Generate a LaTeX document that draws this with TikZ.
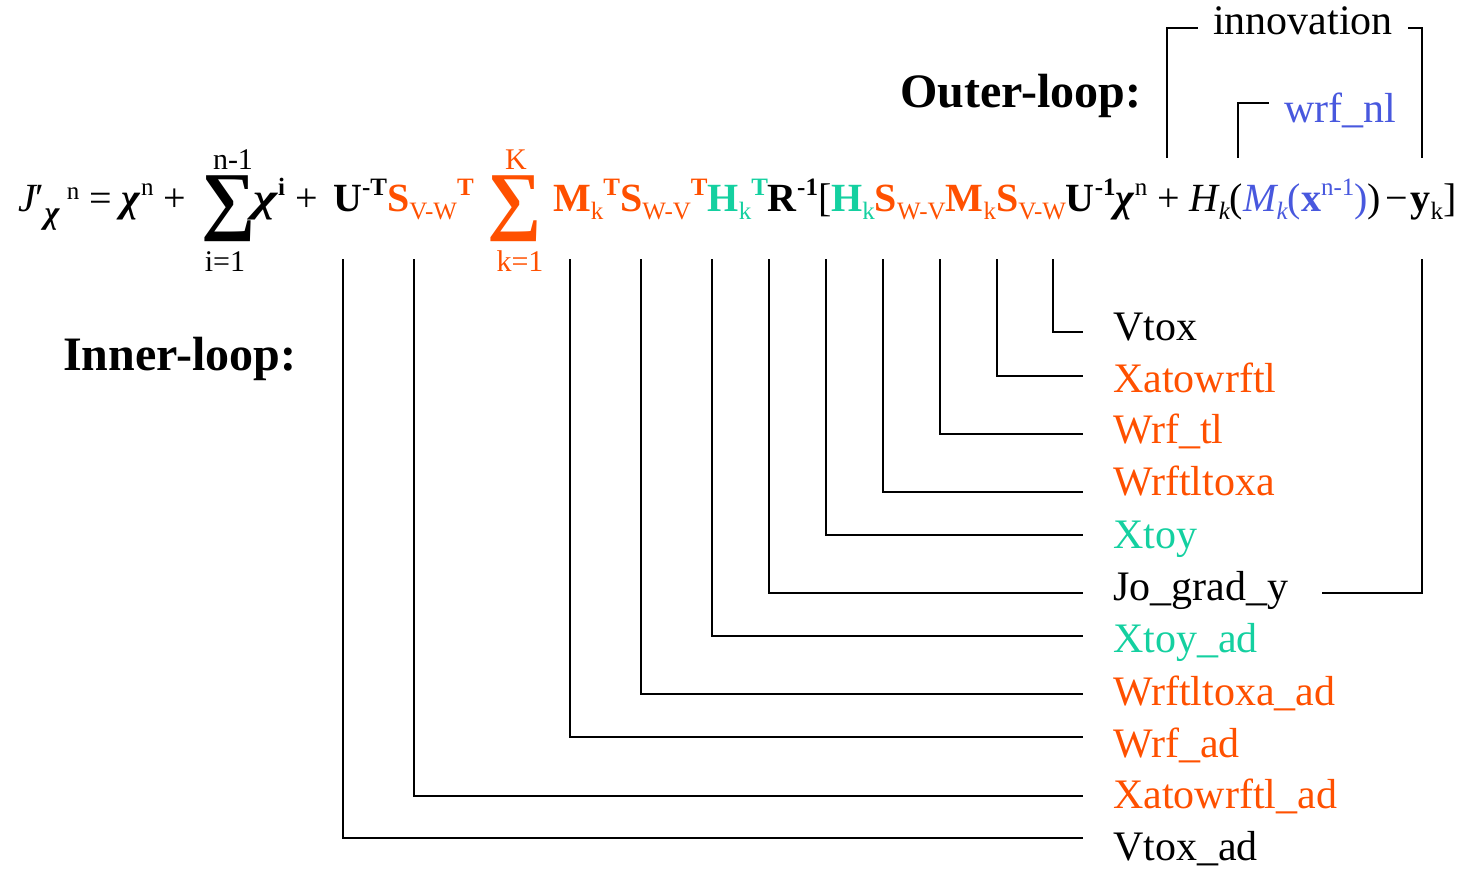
\documentclass[tikz,border=0pt]{standalone}
\usepackage{fontspec}
\setmainfont{Liberation Serif}
\definecolor{orng}{RGB}{255,80,0}
\definecolor{tealg}{RGB}{20,208,160}
\definecolor{bluel}{RGB}{72,88,222}
\newcommand\fs[1]{\fontsize{#1}{#1}\selectfont}
% raised and lowered indices, relative to the 40pt equation font
\newcommand\up[1]{\raisebox{0.42em}{\fs{25}#1}}
\newcommand\dn[1]{\raisebox{-0.2em}{\fs{25}#1}}
\newcommand\og[1]{\textcolor{orng}{#1}}
\newcommand\tg[1]{\textcolor{tealg}{#1}}
\newcommand\bl[1]{\textcolor{bluel}{#1}}
\newcommand\chib{\textbf{\textit{χ}}}
\tikzset{
  eq/.style={anchor=base west, inner sep=0pt, font=\fs{40}},
  lim/.style={anchor=base, inner sep=0pt, font=\fs{30}},
  bigsum/.style={anchor=center, inner sep=0pt, font=\fs{76}\bfseries},
  lab/.style={anchor=base west, inner sep=0pt, font=\fs{42}},
  head/.style={anchor=base west, inner sep=0pt, font=\fs{48}\bfseries},
  wire/.style={line width=1.3pt, line cap=rect}
}
\begin{document}
\begin{tikzpicture}[x=1pt, y=-1pt]
\useasboundingbox (0,0) rectangle (1465,869);

% ---- cost function ----
\node[eq] (partA) at (18,212) {{\itshape J}′\raisebox{-0.3em}{\fs{32}\chib}\,\raisebox{0.3em}{\fs{25}n} = \chib\up{n} +};
\node[bigsum] (sumi) at (229,209) {∑};
\node[lim] (sumitop) at (233,170) {n-1};
\node[lim] (sumibot) at (225,272) {i=1};
\node[eq] (partB1) at (253,212) {\scalebox{1.3}[1]{\chib}\up{\textbf{i}} +};
\node[eq] (partB2) at (333,212) {\textbf{U}\up{\textbf{-T}}\og{\textbf{S}\dn{V-W}\up{\textbf{T}}}};
\node[bigsum, text=orng] (sumk) at (515,209) {∑};
\node[lim, text=orng] (sumktop) at (516,170) {K};
\node[lim, text=orng] (sumkbot) at (520,272) {k=1};
\node[eq] (partC) at (553,212) {\og{\textbf{M}\dn{k}\up{\textbf{T}}\textbf{S}\dn{W-V}\up{\textbf{T}}}\tg{\textbf{H}\dn{k}\up{\textbf{T}}}\textbf{R}\up{\textbf{-1}}[\tg{\textbf{H}\dn{k}}\og{\textbf{S}\dn{W-V}\textbf{M}\dn{k}\textbf{S}\dn{V-W}}\textbf{U}\up{\textbf{-1}}\chib\up{n} + {\itshape H}\dn{\itshape k}(\bl{{\itshape M}\dn{\itshape k}(\textbf{x}\up{n-1})})\hspace{5pt}−\hspace{2pt}\textbf{y}\dn{k}]};

% ---- outer loop ----
\node[head] (outer) at (900,108) {Outer-loop:};
\node[lab] (innov) at (1213,35) {innovation};
\node[lab, text=bluel] (wrfnl) at (1284,123) {wrf\_nl};
\coordinate (inL) at (1167,157);
\coordinate (inR) at (1422,157);
\coordinate (nlL) at (1238,157);
\draw[wire] (inL) |- ([xshift=-16pt]innov.west |- 0,28);
\draw[wire] (inR) |- ([xshift=16pt]innov.east |- 0,28);
\draw[wire] (nlL) |- ([xshift=-16pt]wrfnl.west |- 0,103);

% ---- inner loop ----
\node[head] (inner) at (63,370) {Inner-loop:};

% taps below the terms of the equation
\foreach \n/\x in {vtoxad/343, xatoad/414, wrfad/570, wtxad/641, xtoyad/712,
                   jograd/769, xtoy/826, wtx/883, wrftl/940, xato/997, vtox/1053, yk/1422}
  \coordinate (tap-\n) at (\x,260);

% labels and their line ends
\foreach \n/\t/\c/\yb/\yl in {
    vtox/{Vtox}/black/340/332,
    xato/{Xatowrftl}/orng/392/376,
    wrftl/{Wrf\_tl}/orng/443/434,
    wtx/{Wrftltoxa}/orng/495/492,
    xtoy/{Xtoy}/tealg/548/535,
    jograd/{Jo\_grad\_y}/black/600/593,
    xtoyad/{Xtoy\_ad}/tealg/652/636,
    wtxad/{Wrftltoxa\_ad}/orng/705/694,
    wrfad/{Wrf\_ad}/orng/757/737,
    xatoad/{Xatowrftl\_ad}/orng/808/796,
    vtoxad/{Vtox\_ad}/black/860/838}{
  \node[lab, text=\c] (lab-\n) at (1113,\yb) {\t};
  \coordinate (end-\n) at (1082,\yl);
  \draw[wire] (tap-\n) |- (end-\n);
}
\coordinate (end-yk) at (1323,593);
\draw[wire] (tap-yk) |- (end-yk);
\end{tikzpicture}
\end{document}
